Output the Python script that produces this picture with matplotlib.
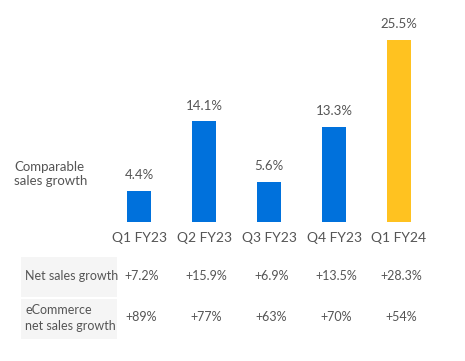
import matplotlib
matplotlib.use('Agg')
import matplotlib.pyplot as plt
from matplotlib.patches import Rectangle
from matplotlib.transforms import blended_transform_factory

quarters = ['Q1 FY23', 'Q2 FY23', 'Q3 FY23', 'Q4 FY23', 'Q1 FY24']
comp_sales = [4.4, 14.1, 5.6, 13.3, 25.5]
net_sales = ['+7.2%', '+15.9%', '+6.9%', '+13.5%', '+28.3%']
ecommerce = ['+89%', '+77%', '+63%', '+70%', '+54%']

W, H = 465, 361
blue = '#0071dc'
yellow = '#ffc220'
grey = '#555555'

plt.rcParams['font.family'] = ['Lato', 'DejaVu Sans']


def fx(px):
    return px / W


def fy(py):
    return 1 - py / H


def main():
    fig = plt.figure(figsize=(W / 100, H / 100), dpi=100)
    fig.patch.set_facecolor('white')

    # bar axes: x from -0.5..4.5, baseline at y=222px
    ax = fig.add_axes([fx(106.5), fy(222), fx(325), 200 / H])
    x = list(range(len(quarters)))
    colors = [blue] * 4 + [yellow]
    ax.bar(x, comp_sales, width=0.37, color=colors)
    ax.set_xlim(-0.5, 4.5)
    ax.set_ylim(0, 28)
    ax.axis('off')

    for i, v in enumerate(comp_sales):
        ax.annotate('%.1f%%' % v, (i, v), xytext=(0, 7), textcoords='offset points',
                    ha='center', va='bottom', fontsize=9.5, color=grey)
        ax.annotate(quarters[i], (i, 0), xytext=(0, -7), textcoords='offset points',
                    ha='center', va='top', fontsize=10, color=grey)

    fig.text(fx(14), fy(174), 'Comparable\nsales growth', ha='left', va='center',
             fontsize=9.5, color=grey, linespacing=1.25)

    # table row label cells
    for y0, y1 in [(257, 297), (299, 339)]:
        fig.add_artist(Rectangle((fx(21), fy(y1)), fx(96), (y1 - y0) / H,
                                 transform=fig.transFigure, facecolor='#f5f5f5',
                                 edgecolor='none', zorder=0))
    fig.text(fx(25), fy(276), 'Net sales growth', ha='left', va='center',
             fontsize=9, color=grey)
    fig.text(fx(25), fy(318), 'eCommerce\nnet sales growth', ha='left', va='center',
             fontsize=9, color=grey, linespacing=1.3)

    trans = blended_transform_factory(ax.transData, fig.transFigure)
    for i in x:
        ax.text(i + 0.04, fy(276), net_sales[i], transform=trans, ha='center',
                va='center', fontsize=9, color=grey, clip_on=False)
        ax.text(i + 0.04, fy(317), ecommerce[i], transform=trans, ha='center',
                va='center', fontsize=9, color=grey, clip_on=False)

    fig.savefig('out.png', dpi=100, facecolor='white')


if __name__ == '__main__':
    main()
